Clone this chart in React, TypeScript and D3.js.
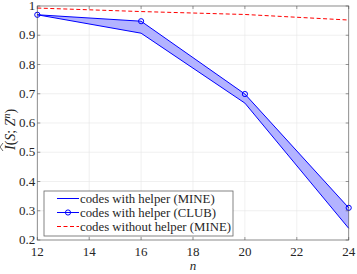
import * as d3 from 'd3';

const nValues = [12, 16, 20, 24];
const mineHelper = [0.97, 0.907, 0.668, 0.24];
const clubHelper = [0.97, 0.948, 0.699, 0.31];
const mineNoHelper = [0.993, 0.981, 0.971, 0.952];
const xTicks = [12, 14, 16, 18, 20, 22, 24];
const yTicks = [0.2, 0.3, 0.4, 0.5, 0.6, 0.7, 0.8, 0.9, 1];
const legendLabels = [
  'codes with helper (MINE)',
  'codes with helper (CLUB)',
  'codes without helper (MINE)',
];

export default function App() {
  const width = 357,
    height = 274,
    marginLeft = 37.3,
    marginRight = 8.3,
    marginTop = 6,
    marginBottom = 34;

  const x = d3.scaleLinear().domain([12, 24]).range([marginLeft, width - marginRight]);
  const y = d3.scaleLinear().domain([0.2, 1]).range([height - marginBottom, marginTop]);

  const blue = '#0000ff';
  const font = 'Liberation Serif, DejaVu Serif, Times New Roman, serif';

  const line = d3
    .line<number>()
    .x((_, i) => x(nValues[i]))
    .y((d) => y(d));

  const band = d3
    .area<number>()
    .x((_, i) => x(nValues[i]))
    .y0((_, i) => y(mineHelper[i]))
    .y1((_, i) => y(clubHelper[i]));

  const x0 = x(12),
    x1 = x(24),
    y0 = y(0.2),
    y1 = y(1);

  const lg = { x: 44, y: 191, w: 189, h: 45 };

  return (
    <svg width={width} height={height} fontFamily={font} style={{ position: 'absolute', left: 0, top: 0, background: '#fff' }}>
      {/* grid */}
      {xTicks.map((t) => (
        <line key={'gx' + t} x1={x(t)} x2={x(t)} y1={y0} y2={y1} stroke="#e6e6e6" strokeWidth={0.6} />
      ))}
      {yTicks.map((t) => (
        <line key={'gy' + t} x1={x0} x2={x1} y1={y(t)} y2={y(t)} stroke="#e6e6e6" strokeWidth={0.6} />
      ))}

      {/* band between MINE and CLUB */}
      <path d={band(mineHelper) ?? ''} fill="#b3b3ff" stroke="none" />
      <path d={line(mineHelper) ?? ''} fill="none" stroke={blue} strokeWidth={1} />
      <path d={line(clubHelper) ?? ''} fill="none" stroke={blue} strokeWidth={1} />
      {clubHelper.map((v, i) => (
        <circle key={'c' + i} cx={x(nValues[i])} cy={y(v)} r={2.6} fill="none" stroke={blue} strokeWidth={1} />
      ))}
      <path
        d={line(mineNoHelper) ?? ''}
        fill="none"
        stroke="#ff0000"
        strokeWidth={1}
        strokeDasharray="4 2.5"
      />

      {/* axes box and ticks */}
      <rect x={x0} y={y1} width={x1 - x0} height={y0 - y1} fill="none" stroke="#262626" strokeOpacity={0.6} strokeWidth={0.8} />
      {xTicks.map((t) => (
        <g key={'tx' + t}>
          <line x1={x(t)} x2={x(t)} y1={y0} y2={y0 - 3} stroke="#555" strokeWidth={0.6} />
          <line x1={x(t)} x2={x(t)} y1={y1} y2={y1 + 3} stroke="#555" strokeWidth={0.6} />
          <text x={x(t)} y={y0 + 16} textAnchor="middle" fontSize={13} fill="#262626">
            {t}
          </text>
        </g>
      ))}
      {yTicks.map((t) => (
        <g key={'ty' + t}>
          <line x1={x0} x2={x0 + 3} y1={y(t)} y2={y(t)} stroke="#555" strokeWidth={0.6} />
          <line x1={x1} x2={x1 - 3} y1={y(t)} y2={y(t)} stroke="#555" strokeWidth={0.6} />
          <text x={x0 - 2} y={y(t) + 4} textAnchor="end" fontSize={13} fill="#262626">
            {d3.format('~g')(t)}
          </text>
        </g>
      ))}

      {/* axis labels */}
      <text x={(x0 + x1) / 2} y={height - 4} textAnchor="middle" fontSize={13} fontStyle="italic" fill="#262626">
        n
      </text>
      <g transform={`translate(15,${(y0 + y1) / 2}) rotate(-90)`} fill="#262626">
        <text x={-27} y={0} fontSize={14}>
          <tspan fontStyle="italic">I</tspan>
          <tspan>(</tspan>
          <tspan fontStyle="italic">S</tspan>
          <tspan>; </tspan>
          <tspan fontStyle="italic">Z</tspan>
          <tspan fontStyle="italic" fontSize={10} dy={-5}>n</tspan>
          <tspan dy={5}>)</tspan>
        </text>
        <path d="M -28 -12 L -24 -15 L -20 -12" fill="none" stroke="#262626" strokeWidth={0.7} />
      </g>

      {/* legend */}
      <rect x={lg.x} y={lg.y} width={lg.w} height={lg.h} fill="#fff" stroke="#262626" strokeOpacity={0.7} strokeWidth={0.8} />
      {legendLabels.map((label, i) => {
        const ly = lg.y + 7.5 + i * 14;
        return (
          <g key={label}>
            <line
              x1={lg.x + 13}
              x2={lg.x + 35}
              y1={ly}
              y2={ly}
              stroke={i === 2 ? '#ff0000' : blue}
              strokeWidth={1}
              strokeDasharray={i === 2 ? '4 2.5' : undefined}
            />
            {i === 1 && <circle cx={lg.x + 24} cy={ly} r={2.6} fill="none" stroke={blue} strokeWidth={1} />}
            <text x={lg.x + 36} y={ly + 4} fontSize={12.8} fill="#262626">
              {label}
            </text>
          </g>
        );
      })}
    </svg>
  );
}
